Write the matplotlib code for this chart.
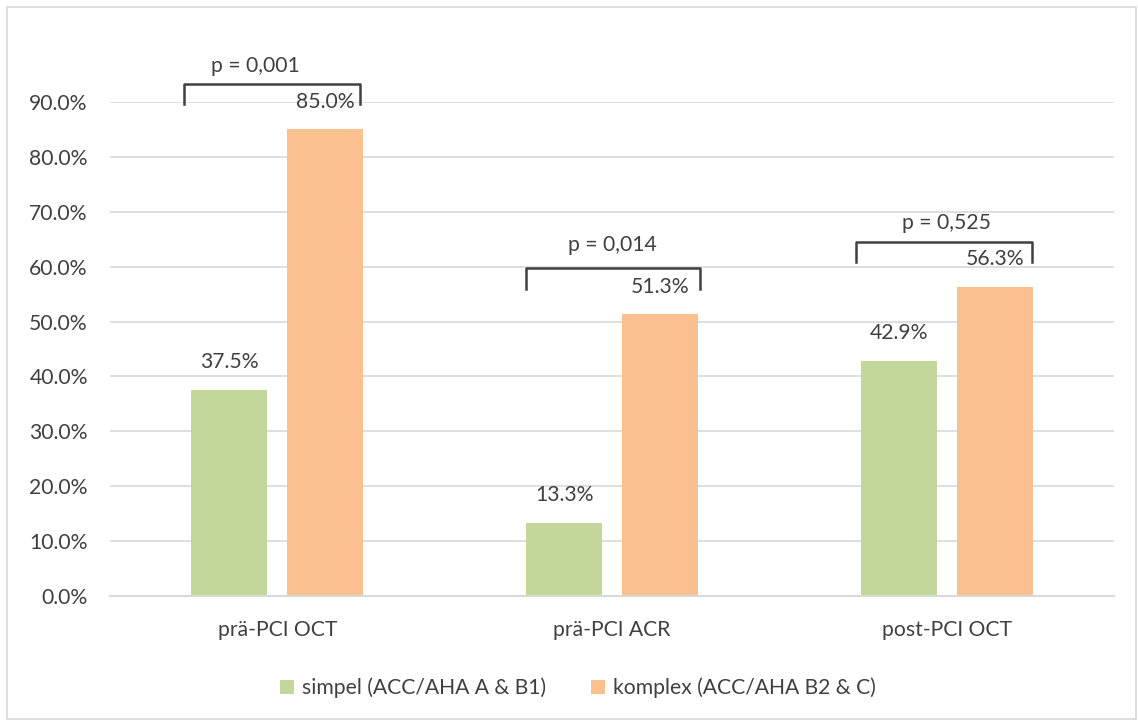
import matplotlib
matplotlib.use("Agg")
import matplotlib.pyplot as plt
from matplotlib.patches import Rectangle
from matplotlib.ticker import FuncFormatter
import numpy as np

categories = ["prä-PCI OCT", "prä-PCI ACR", "post-PCI OCT"]
simpel = [37.5, 13.3, 42.9]
komplex = [85.0, 51.3, 56.3]
series_labels = ["simpel (ACC/AHA A & B1)", "komplex (ACC/AHA B2 & C)"]
p_values = ["p = 0,001", "p = 0,014", "p = 0,525"]
y_ticks = [0, 10, 20, 30, 40, 50, 60, 70, 80, 90]

GREEN = "#c4d79b"
ORANGE = "#fac090"
TEXT = "#404040"
GRID = "#d9d9d9"
FS = 15.2

plt.rcParams["font.family"] = ["Lato", "DejaVu Sans"]

fig = plt.figure(figsize=(11.38, 7.22), dpi=100)
fig.patches.append(Rectangle((0.006, 0.004), 0.992, 0.986, transform=fig.transFigure,
                             fill=False, edgecolor="#d9d9d9", linewidth=1.2))
ax = fig.add_axes([0.0967, 0.1745, 0.8823, 0.6842])

x = np.arange(len(categories))
w = 0.227
off = 0.1435
b1 = ax.bar(x - off, simpel, w, color=GREEN, label=series_labels[0], zorder=2)
b2 = ax.bar(x + off, komplex, w, color=ORANGE, label=series_labels[1], zorder=2)

for bars, vals in ((b1, simpel), (b2, komplex)):
    for r, v in zip(bars, vals):
        ax.annotate(f"{v:.1f}%", (r.get_x() + r.get_width() / 2, v),
                    xytext=(0, 20), textcoords="offset points",
                    ha="center", va="center", fontsize=FS, color=TEXT)

ax.set_xlim(-0.5, 2.5)
ax.set_ylim(0, 90)
ax.set_yticks(y_ticks)
ax.yaxis.set_major_formatter(FuncFormatter(lambda v, _: f"{v:.1f}%"))
ax.set_xticks(x)
ax.set_xticklabels(categories)
ax.tick_params(axis="both", length=0, labelsize=FS, labelcolor=TEXT)
ax.tick_params(axis="y", pad=16)
ax.tick_params(axis="x", pad=17)
ax.grid(axis="y", color=GRID, linewidth=1.2, zorder=0)
for s in ("top", "right", "left"):
    ax.spines[s].set_visible(False)
ax.spines["bottom"].set_color(GRID)
ax.spines["bottom"].set_linewidth(1.5)
ax.spines["bottom"].set_zorder(3)

# significance brackets: (left, right, top, drop, text x, text y)
brackets = [
    (-0.28, 0.247, 93.3, 3.7, -0.067, 96.5),
    (1 - 0.257, 1 + 0.263, 59.7, 3.8, 1.0, 63.9),
    (2 - 0.271, 2 + 0.255, 64.5, 3.7, 2.0, 67.9),
]
for (l, r, top, drop, tx, ty), p in zip(brackets, p_values):
    ax.plot([l, l, r, r], [top - drop, top, top, top - drop], color="#404040",
            linewidth=1.8, clip_on=False, zorder=4, solid_joinstyle="round")
    ax.text(tx, ty, p, ha="center", va="center", fontsize=FS, color=TEXT,
            clip_on=False)

fig.legend(loc="center", bbox_to_anchor=(0.508, 0.047), ncol=2, frameon=False,
           fontsize=FS, handlelength=0.65, handleheight=0.65, handletextpad=0.4,
           columnspacing=2.1, labelcolor=TEXT)

fig.savefig("out.png", dpi=100)
